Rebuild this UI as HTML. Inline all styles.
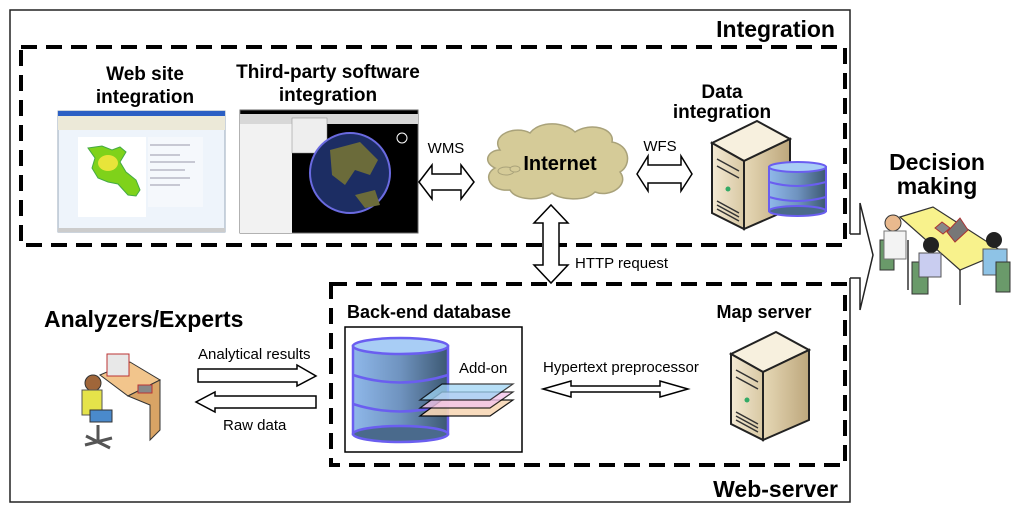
<!DOCTYPE html>
<html><head><meta charset="utf-8"><style>
html,body{margin:0;padding:0;background:#fff}
svg{display:block}
text{font-family:"Liberation Sans",Arial,sans-serif}
.b{font-weight:bold}
</style></head><body>
<svg width="1024" height="513" viewBox="0 0 1024 513" xmlns="http://www.w3.org/2000/svg">
<defs>
<linearGradient id="cyl" x1="0" x2="1" y1="0" y2="0">
<stop offset="0" stop-color="#8fb8ea"/><stop offset="0.5" stop-color="#6f93bf"/><stop offset="1" stop-color="#3c5872"/>
</linearGradient>
<linearGradient id="srvF" x1="0" x2="1"><stop offset="0" stop-color="#f4ead4"/><stop offset="1" stop-color="#d8c8a3"/></linearGradient>
<linearGradient id="srvS" x1="0" x2="1"><stop offset="0" stop-color="#e6d8b6"/><stop offset="1" stop-color="#bda77c"/></linearGradient>
<g id="server">
<polygon points="0,22 45,0 78,18 32,40" fill="#f7f0de" stroke="#222" stroke-width="2"/>
<polygon points="0,22 32,40 32,108 0,92" fill="url(#srvF)" stroke="#222" stroke-width="2"/>
<polygon points="32,40 78,18 78,88 32,108" fill="url(#srvS)" stroke="#222" stroke-width="2"/>
<path d="M5,38 L27,50 M5,45 L27,57 M5,80 L27,92 M5,84 L27,96 M5,88 L27,100" stroke="#333" stroke-width="1.5"/>
<circle cx="16" cy="68" r="2.5" fill="#3a6"/>
</g>
</defs>

<polyline points="850,234 850,10 10,10 10,502 850,502 850,278" fill="none" stroke="#222" stroke-width="1.5"/>
<polyline points="850,234 860,234 860,203 873,255 860,310 860,278 850,278" fill="none" stroke="#222" stroke-width="1.5"/>

<rect x="21" y="47" width="824" height="198" fill="none" stroke="#000" stroke-width="4" stroke-dasharray="16,9"/>
<rect x="331" y="284" width="514" height="181" fill="none" stroke="#000" stroke-width="4" stroke-dasharray="16,9"/>

<text x="835" y="37" text-anchor="end" class="b" font-size="23">Integration</text>
<text x="838" y="497" text-anchor="end" class="b" font-size="23">Web-server</text>

<text x="145" y="80" text-anchor="middle" class="b" font-size="19">Web site</text>
<text x="145" y="103" text-anchor="middle" class="b" font-size="19">integration</text>
<text x="328" y="78" text-anchor="middle" class="b" font-size="19">Third-party software</text>
<text x="328" y="101" text-anchor="middle" class="b" font-size="19">integration</text>
<text x="722" y="98" text-anchor="middle" class="b" font-size="19">Data</text>
<text x="722" y="118" text-anchor="middle" class="b" font-size="19">integration</text>

<rect x="58" y="111" width="167" height="121" fill="#eef4fb" stroke="#9ab" stroke-width="1"/>
<rect x="58" y="111" width="167" height="5" fill="#2b5fc4"/>
<rect x="58" y="116" width="167" height="14" fill="#ece9d8"/>
<rect x="78" y="137" width="68" height="80" fill="#fff"/>
<path d="M88,148 L102,146 L112,150 L120,147 L126,152 L120,162 L126,172 L136,180 L140,190 L136,196 L128,195 L118,184 L108,182 L98,178 L92,168 L95,158 Z" fill="#7fd21a" stroke="#4a4" stroke-width="1"/>
<ellipse cx="108" cy="163" rx="10" ry="8" fill="#e8e43a"/>
<rect x="148" y="137" width="55" height="70" fill="#f5f8fc"/>
<path d="M150,145h40M150,155h30M150,162h45M150,170h35M150,178h40M150,185h30" stroke="#99a" stroke-width="1"/>
<rect x="58" y="228" width="167" height="4" fill="#ccc"/>

<rect x="240" y="110" width="178" height="123" fill="#000" stroke="#666"/>
<rect x="240" y="114" width="178" height="10" fill="#d8d8d8"/>
<rect x="240" y="124" width="52" height="109" fill="#f2f2f2"/>
<rect x="292" y="118" width="35" height="35" fill="#eee" stroke="#888" stroke-width="0.5"/>
<circle cx="350" cy="173" r="40" fill="#1c2d63" stroke="#6a6ae0" stroke-width="2"/>
<path d="M330,150 L360,142 L378,160 L370,175 L355,170 L345,185 L332,175 Z" fill="#6b6b3a"/>
<path d="M355,195 L375,190 L380,205 L365,208 Z" fill="#6b6b3a"/>
<circle cx="402" cy="138" r="5" fill="none" stroke="#fff" stroke-width="1"/>

<text x="446" y="153" text-anchor="middle" font-size="15">WMS</text>
<polygon points="419,182 432,165 432,174 461,174 461,165 474,182 461,199 461,190 432,190 432,199" fill="#fff" stroke="#000" stroke-width="1.5"/>

<path d="M500,150 C490,135 515,125 530,133 C540,120 565,122 575,132 C590,122 615,128 612,142 C630,145 632,165 620,172 C630,185 610,198 595,192 C585,202 560,200 552,193 C540,202 515,200 510,190 C490,192 482,175 495,168 C482,162 488,150 500,150 Z" fill="#d5cb98" stroke="#a9a27a" stroke-width="1.5"/>
<ellipse cx="506" cy="171" rx="8" ry="4" fill="#d5cb98" stroke="#a9a27a"/>
<ellipse cx="515" cy="169" rx="5" ry="3" fill="#d5cb98" stroke="#a9a27a"/>
<text x="560" y="170" text-anchor="middle" class="b" font-size="20">Internet</text>

<text x="660" y="151" text-anchor="middle" font-size="15">WFS</text>
<polygon points="637,174 648,156 648,165 681,165 681,156 692,174 681,191 681,183 648,183 648,191" fill="#fff" stroke="#000" stroke-width="1.5"/>

<use href="#server" x="712" y="121"/>
<g>
<rect x="769" y="167" width="57" height="44" fill="url(#cyl)" stroke="#6a5ef0" stroke-width="2"/>
<ellipse cx="797.5" cy="211" rx="28.5" ry="5" fill="#4a6a8c" stroke="#6a5ef0" stroke-width="2"/>
<path d="M769,182 Q797,190 826,182 M769,197 Q797,205 826,197" fill="none" stroke="#6a5ef0" stroke-width="2"/>
<ellipse cx="797.5" cy="167" rx="28.5" ry="5" fill="#a8cdf5" stroke="#6a5ef0" stroke-width="2"/>
</g>

<polygon points="551,205 568,223 559,223 559,265 568,265 551,283 534,265 543,265 543,223 534,223" fill="#fff" stroke="#000" stroke-width="1.5"/>
<text x="575" y="268" font-size="15">HTTP request</text>

<text x="937" y="170" text-anchor="middle" class="b" font-size="23">Decision</text>
<text x="937" y="194" text-anchor="middle" class="b" font-size="23">making</text>
<path d="M908,240 L908,290 M960,268 L960,305 M1000,252 L1000,290" stroke="#666" stroke-width="2"/>
<polygon points="900,217 933,207 1003,252 960,270" fill="#f8f28c" stroke="#333" stroke-width="1.2"/>
<path d="M935,228 L942,222 L950,228 L943,234 Z" fill="#888" stroke="#a33"/>
<path d="M947,232 L960,218 L968,230 L955,242 Z" fill="#777" stroke="#a33"/>
<rect x="880" y="240" width="14" height="30" fill="#6a9a6a" stroke="#333"/>
<circle cx="893" cy="223" r="8" fill="#e9b98e" stroke="#333"/>
<rect x="884" y="231" width="22" height="28" fill="#f3f3f3" stroke="#777"/>
<rect x="912" y="262" width="16" height="32" fill="#6a9a6a" stroke="#333"/>
<circle cx="931" cy="245" r="8" fill="#222"/>
<rect x="919" y="253" width="22" height="24" fill="#c9cdf0" stroke="#555"/>
<circle cx="994" cy="240" r="8" fill="#222"/>
<rect x="983" y="249" width="24" height="26" fill="#8ec3e6" stroke="#555"/>
<rect x="996" y="262" width="14" height="30" fill="#6a9a6a" stroke="#333"/>

<text x="44" y="327" class="b" font-size="23">Analyzers/Experts</text>
<polygon points="100,375 130,362 160,380 128,396" fill="#f2c58c" stroke="#333"/>
<polygon points="128,396 160,380 160,430 150,440 150,405 128,396" fill="#d9a465" stroke="#333"/>
<rect x="107" y="354" width="22" height="22" fill="#e8e8e8" stroke="#b33"/>
<rect x="138" y="385" width="14" height="8" fill="#888" stroke="#b33"/>
<circle cx="93" cy="383" r="8" fill="#a0663a" stroke="#333"/>
<rect x="82" y="390" width="20" height="25" fill="#e5e34a" stroke="#555"/>
<rect x="90" y="410" width="22" height="12" fill="#4a8acc" stroke="#333"/>
<path d="M98,425 L98,440 M85,445 L112,438 M86,436 L110,448" stroke="#555" stroke-width="3"/>

<text x="198" y="359" font-size="15">Analytical results</text>
<polygon points="198,369 297,369 297,365 316,376 297,386 297,382 198,382" fill="#fff" stroke="#000" stroke-width="1.5"/>
<polygon points="316,396 215,396 215,392 196,402 215,412 215,408 316,408" fill="#fff" stroke="#000" stroke-width="1.5"/>
<text x="223" y="430" font-size="15">Raw data</text>

<text x="347" y="318" class="b" font-size="18">Back-end database</text>
<rect x="345" y="327" width="177" height="125" fill="#fff" stroke="#000" stroke-width="1.5"/>
<rect x="353" y="346" width="95" height="88" fill="url(#cyl)" stroke="#6a5ef0" stroke-width="2.5"/>
<ellipse cx="400.5" cy="434" rx="47.5" ry="8" fill="#4a6a8c" stroke="#6a5ef0" stroke-width="2.5"/>
<path d="M353,375 Q400,390 448,375 M353,404 Q400,419 448,404" fill="none" stroke="#6a5ef0" stroke-width="2.5"/>
<ellipse cx="400.5" cy="346" rx="47.5" ry="8" fill="#a8cdf5" stroke="#6a5ef0" stroke-width="2.5"/>
<text x="459" y="373" font-size="15">Add-on</text>
<polygon points="420,416 442,400 513,400 490,416" fill="#f9d9b8" stroke="#000" stroke-width="1.2" opacity="0.9"/>
<polygon points="420,408 442,392 513,392 490,408" fill="#f4c5ea" stroke="#000" stroke-width="1.2" opacity="0.8"/>
<polygon points="420,400 442,384 513,384 490,400" fill="#9fd5f5" stroke="#000" stroke-width="1.2" opacity="0.75"/>

<text x="543" y="372" font-size="15">Hypertext preprocessor</text>
<polygon points="543,389 571,381 571,386 660,386 660,381 688,389 660,397 660,392 571,392 571,397" fill="#fff" stroke="#000" stroke-width="1.5"/>

<text x="764" y="318" text-anchor="middle" class="b" font-size="18">Map server</text>
<use href="#server" x="731" y="332"/>
</svg>
</body></html>
